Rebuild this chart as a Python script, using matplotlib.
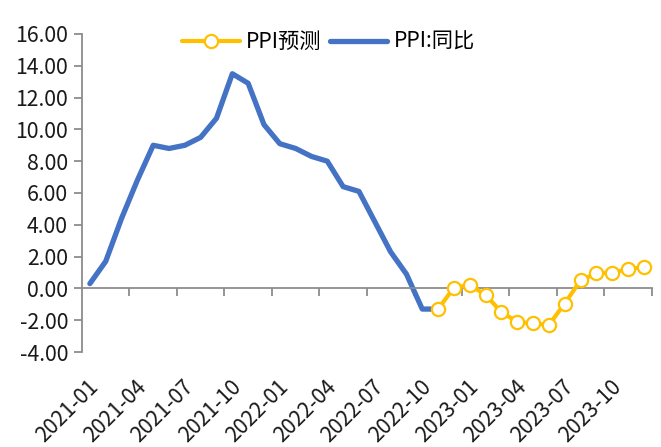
import numpy as np
import pandas as pd
import matplotlib
matplotlib.use("Agg")
import matplotlib.pyplot as plt
import matplotlib.transforms as mtransforms

plt.rcParams['font.family'] = ['Noto Sans CJK SC', 'DejaVu Sans']
plt.rcParams['axes.unicode_minus'] = False

# categories: monthly 2021-01 .. 2023-12
months = [str(p) for p in pd.period_range('2021-01', '2023-12', freq='M')]

# PPI YoY actual (2021-01 .. 2022-11)
ppi_actual = [0.3, 1.7, 4.4, 6.8, 9.0, 8.8, 9.0, 9.5, 10.7, 13.5, 12.9, 10.3,
              9.1, 8.8, 8.3, 8.0, 6.4, 6.1, 4.2, 2.3, 0.9, -1.3, -1.3]
# PPI forecast (2022-11 .. 2023-12)
ppi_forecast = [-1.3, 0.05, 0.2, -0.4, -1.5, -2.1, -2.2, -2.3, -0.95, 0.5,
                0.95, 1.0, 1.2, 1.35]
forecast_start = '2022-11'

label_every = 3
yticks = [-4, -2, 0, 2, 4, 6, 8, 10, 12, 14, 16]

blue = '#4472C4'
gold = '#FFC000'
axis_gray = '#8C8C8C'
text_col = '#1A1A1A'

fig = plt.figure(figsize=(6.61, 4.47), dpi=100)
ax = fig.add_axes([0.124, 0.2125, 0.862, 0.7115])

x_all = np.arange(len(months))
x_act = x_all[:len(ppi_actual)]
i0 = months.index(forecast_start)
x_fc = x_all[i0:i0 + len(ppi_forecast)]

ax.plot(x_fc, ppi_forecast, color=gold, lw=3.0, marker='o', markersize=9.5,
        markerfacecolor='white', markeredgecolor=gold, markeredgewidth=1.6,
        label='PPI预测', zorder=3, solid_capstyle='round')
ax.plot(x_act, ppi_actual, color=blue, lw=3.8, label='PPI:同比', zorder=2,
        solid_capstyle='round', solid_joinstyle='round')

ax.set_xlim(-0.5, len(months) - 0.5)
ax.set_ylim(min(yticks), max(yticks))
ax.set_yticks(yticks)
ax.set_yticklabels([f'{v:.2f}' for v in yticks], fontsize=15.3, color=text_col)

for s in ['top', 'right']:
    ax.spines[s].set_visible(False)
ax.spines['left'].set_color(axis_gray)
ax.spines['left'].set_linewidth(1.3)
ax.spines['bottom'].set_position(('data', 0))
ax.spines['bottom'].set_color(axis_gray)
ax.spines['bottom'].set_linewidth(1.3)

ax.set_xticks(np.arange(label_every - 0.5, len(months), label_every))
ax.set_xticklabels([])
ax.tick_params(axis='x', direction='out', length=6, width=1.3, color=axis_gray)
ax.tick_params(axis='y', direction='out', length=6, width=1.3, color=axis_gray, pad=4)

trans = mtransforms.blended_transform_factory(ax.transData, ax.transAxes)
for i in range(0, len(months), label_every):
    ax.text(i + 0.35, -0.1, months[i], transform=trans, rotation=45,
            ha='right', va='center', rotation_mode='anchor',
            fontsize=15.3, color=text_col)

leg = fig.legend(loc='center', bbox_to_anchor=(0.497, 0.906), ncol=2,
                 frameon=False, fontsize=15.3, handlelength=2.7,
                 handletextpad=0.3, columnspacing=0.4)

fig.savefig('out.png', dpi=100)
